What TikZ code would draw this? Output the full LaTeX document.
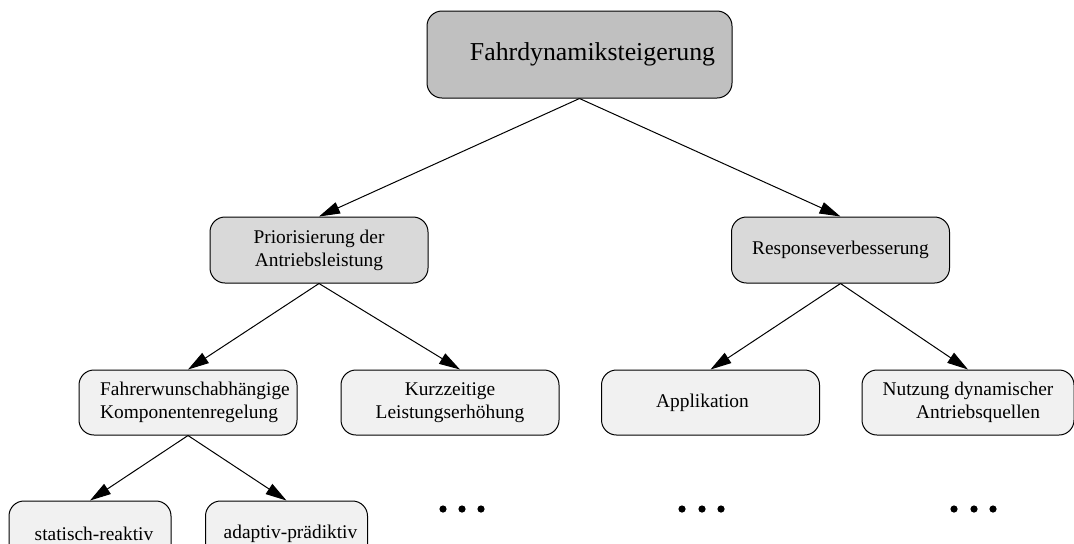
\documentclass[tikz,border=0pt]{standalone}
\usepackage{fontspec}
\setmainfont{Liberation Serif}
\usetikzlibrary{arrows.meta}
\definecolor{topfill}{RGB}{192,192,192}
\definecolor{midfill}{RGB}{217,217,217}
\definecolor{lowfill}{RGB}{241,241,241}
\begin{document}
\begin{tikzpicture}[x=0.5pt,y=-0.5pt,
  box/.style={draw=black, line width=0.5pt, rounded corners=7.5pt, inner sep=0pt,
              minimum height=32.5pt, text=black},
  topbox/.style={box, fill=topfill, minimum width=152.5pt, minimum height=43.5pt,
                 font=\fontsize{12.9}{15.5}\selectfont},
  midbox/.style={box, fill=midfill, minimum width=109pt, minimum height=33pt,
                 font=\fontsize{9.7}{11.6}\selectfont, align=center},
  lowbox/.style={box, fill=lowfill, minimum width=109pt,
                 font=\fontsize{9.7}{11.6}\selectfont, align=center},
  leafbox/.style={box, fill=lowfill, minimum width=81pt,
                 font=\fontsize{9.7}{11.6}\selectfont},
  link/.style={line width=0.5pt, -{Triangle[length=10.5pt,width=6pt]}},
  dot/.style={fill=black}
]
\useasboundingbox (0,0) rectangle (1074,543);
\clip (0,0) rectangle (1074,543);

\node[topbox] (top) at (579.5,54.5) {\hspace{13pt}Fahrdynamiksteigerung};

\node[midbox] (prior) at (319,250) {Priorisierung der\\Antriebsleistung};
\node[midbox] (resp) at (840.5,250) {Responseverbesserung};

\node[lowbox, align=left] (fahrer) at (188,402.5) {\hspace*{7pt}Fahrerwunschabhängige\\\hspace*{7pt}Komponentenregelung};
\node[lowbox] (kurz) at (450,402.5) {Kurzzeitige\\Leistungserhöhung};
\node[lowbox] (appl) at (710.5,402.5) {Applikation\hspace*{8pt}};
\node[lowbox, minimum width=106pt] (nutz) at (968,402.5) {Nutzung dynamischer\\\hspace*{10pt}Antriebsquellen};

\node[leafbox] (stat) at (90,533.5) {\hspace*{4pt}statisch-reaktiv};
\node[leafbox] (adapt) at (286.5,533.5) {\hspace*{4pt}adaptiv-prädiktiv};

\draw[link] (top.south) -- (prior.north);
\draw[link] (top.south) -- (resp.north);
\draw[link] (prior.south) -- (fahrer.north);
\draw[link] (prior.south) -- ([xshift=5pt]kurz.north);
\draw[link] (resp.south) -- (appl.north);
\draw[link] (resp.south) -- (nutz.north);
\draw[link] (fahrer.south) -- (stat.north);
\draw[link] (fahrer.south) -- (adapt.north);

\foreach \x in {443,462,481, 682,702,721, 954,974,993}
  \fill[dot] (\x,509) circle (1.8pt);
\end{tikzpicture}
\end{document}
